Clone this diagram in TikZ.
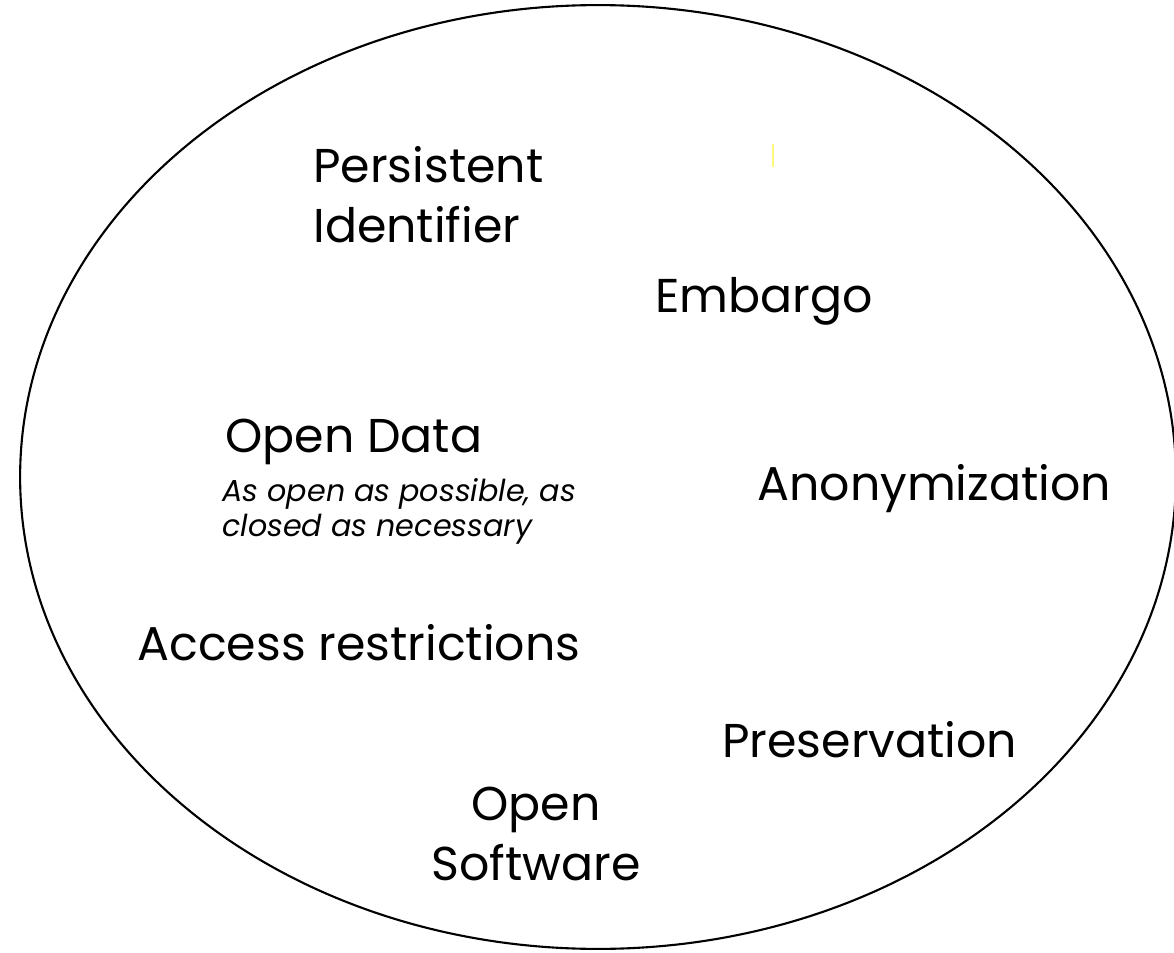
\documentclass[tikz,border=0pt]{standalone}
\usepackage{fontspec}
\setmainfont{Poppins}
\definecolor{marker}{HTML}{FFF87A}

\begin{document}
\begin{tikzpicture}[x=0.02cm,y=-0.02cm,
  big/.style={inner sep=0pt,anchor=base west,font=\fontsize{27}{34}\selectfont},
  small/.style={inner sep=0pt,anchor=base west,align=left,font=\fontsize{17.2}{19.8}\selectfont\itshape}]
  %\draw[help lines] (0,0) grid[step=100] (1174,953);
  \useasboundingbox (0,0) rectangle (1174,953);
  \draw[line width=1.2pt] (598,477) ellipse [x radius=11.56cm, y radius=9.44cm];
  \draw[marker,line width=1pt] (773,144) -- (773,167);

  % multi-line nodes: base = last line
  \node[big,align=left] (pid) at (313,242) {Persistent\\Identifier};
  \node[big] (embargo) at (655,312) {Embargo};
  \node[big] (opendata) at (225,452) {Open Data};
  \node[small] (motto) at (222,536) {As open as possible, as\\closed as necessary};
  \node[big] (anon) at (757,500) {Anonymization};
  \node[big] (access) at (137,660) {Access restrictions};
  \node[big] (preserv) at (722,757) {Preservation};
  \node[big,align=center,anchor=base] (opensw) at (536,880) {Open\\Software};
\end{tikzpicture}
\end{document}
